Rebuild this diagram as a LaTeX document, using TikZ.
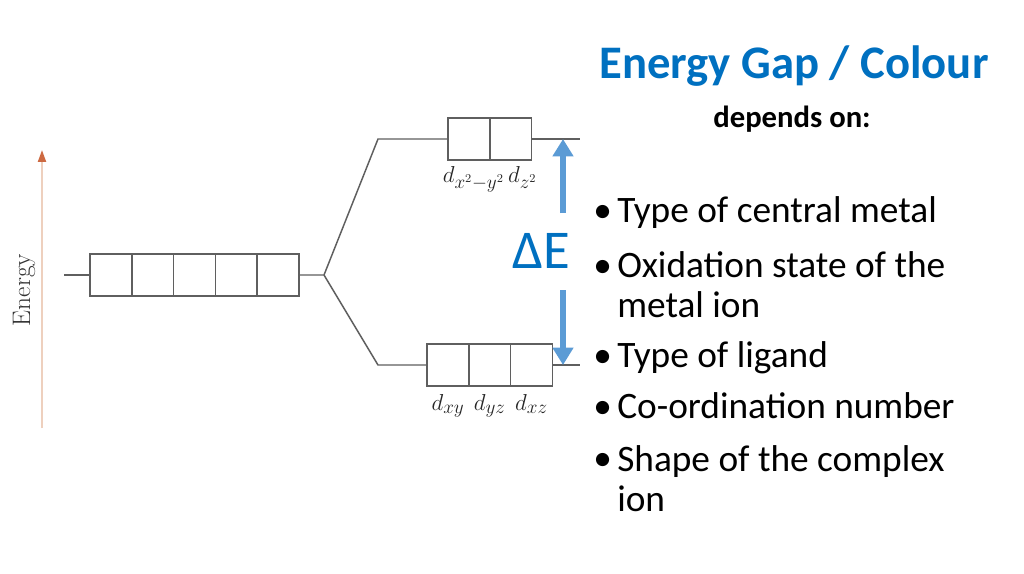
\documentclass[tikz,border=0pt]{standalone}
\usepackage{fontspec}
\usepackage{tikz}
\usetikzlibrary{positioning, arrows.meta, calc}
\newfontfamily\slidefont{Carlito}
\definecolor{gapblue}{RGB}{0, 112, 192}
\definecolor{arrowblue}{RGB}{91, 155, 213}
\definecolor{orbgray}{RGB}{95, 95, 95}
\definecolor{axispeach}{RGB}{238, 208, 190}
\definecolor{axistip}{RGB}{205, 105, 65}

\begin{document}
\begin{tikzpicture}[
    x=0.75pt, y=-0.75pt,
    node distance=0pt,
    orb/.style={rectangle, draw=orbgray, line width=1.1pt, minimum width=31.3pt, minimum height=31.5pt, inner sep=0pt, outer sep=0pt},
    level/.style={draw=orbgray, line width=1.1pt},
    orblabel/.style={font=\fontsize{19}{21}\selectfont, text=black!85, inner sep=1pt},
    gaparrow/.style={arrowblue, line width=4.5pt, -{Triangle[width=15pt, length=13pt]}},
    heading/.style={font=\slidefont\bfseries\fontsize{35}{40}\selectfont, text=gapblue, inner sep=0pt},
    subhead/.style={font=\slidefont\bfseries\fontsize{23}{26}\selectfont, inner sep=0pt},
    item/.style={font=\slidefont\fontsize{28}{30}\selectfont, align=left, inner sep=0pt, anchor=base west},
    dot/.style={font=\slidefont\fontsize{28}{30}\selectfont, inner sep=0pt, anchor=base west}
]
    \fill[white] (0,0) rectangle (1024,574);
    \useasboundingbox (0,0) rectangle (1024,574);

    % energy axis
    \coordinate (ebot) at (42,428);
    \coordinate (etop) at (42,150);
    \draw[axispeach, line width=1.5pt, -{Triangle[width=6pt, length=9pt, color=axistip]}] (ebot) -- (etop);
    \node[rotate=90, text=black!80, font=\fontsize{19}{21}\selectfont] (energy) at (24,290) {Energy};

    % degenerate d orbitals
    \node[orb] (d1) at (111,275) {};
    \node[orb, right=of d1] (d2) {};
    \node[orb, right=of d2] (d3) {};
    \node[orb, right=of d3] (d4) {};
    \node[orb, right=of d4] (d5) {};

    % split levels
    \node[orb] (u1) at (469,139) {};
    \node[orb, right=of u1] (u2) {};
    \node[orb] (l1) at (448,365) {};
    \node[orb, right=of l1] (l2) {};
    \node[orb, right=of l2] (l3) {};

    \node[orblabel, below=4pt of u1.south east] (ulab) {$d_{x^2-y^2}\,d_{z^2}$};
    \node[orblabel, below=5pt of l1] (lxy) {$d_{xy}$};
    \node[orblabel, below=5pt of l2] (lyz) {$d_{yz}$};
    \node[orblabel, below=5pt of l3] (lxz) {$d_{xz}$};

    \coordinate (lstub) at (64,275);
    \coordinate (fork) at (324,275);
    \coordinate (uknee) at (378,139);
    \coordinate (lknee) at (378,365);
    \coordinate (uend) at (580,139);
    \coordinate (lend) at (580,365);
    \draw[level] (lstub) -- (d1.west);
    \draw[level] (d5.east) -- (fork) -- (uknee) -- (u1.west);
    \draw[level] (fork) -- (lknee) -- (l1.west);
    \draw[level] (u2.east) -- (uend);
    \draw[level] (l3.east) -- (lend);

    % energy gap
    \node[font=\slidefont\fontsize{41}{44}\selectfont, text=gapblue, inner sep=0pt] (dE) at (541,251) {ΔE};
    \coordinate (gtop) at (563,213);
    \coordinate (gbot) at (563,290);
    \draw[gaparrow] (gtop) -- (uend -| gtop);
    \draw[gaparrow] (gbot) -- (lend -| gbot);

    % text on the right
    \node[heading, anchor=base] (title) at (794,79) {Energy Gap / Colour};
    \node[subhead, anchor=base] (depends) at (792,128) {depends on:};

    \node[dot] (b1) at (593,222) {•};
    \node[item] (t1) at (617,222) {Type of central metal};
    \node[dot] (b2) at (593,277) {•};
    \node[item] (t2) at (617,317) {Oxidation state of the\\metal ion};
    \node[dot] (b3) at (593,367) {•};
    \node[item] (t3) at (617,367) {Type of ligand};
    \node[dot] (b4) at (593,418) {•};
    \node[item] (t4) at (617,418) {Co-ordination number};
    \node[dot] (b5) at (593,470) {•};
    \node[item] (t5) at (617,511) {Shape of the complex\\ion};
\end{tikzpicture}
\end{document}
